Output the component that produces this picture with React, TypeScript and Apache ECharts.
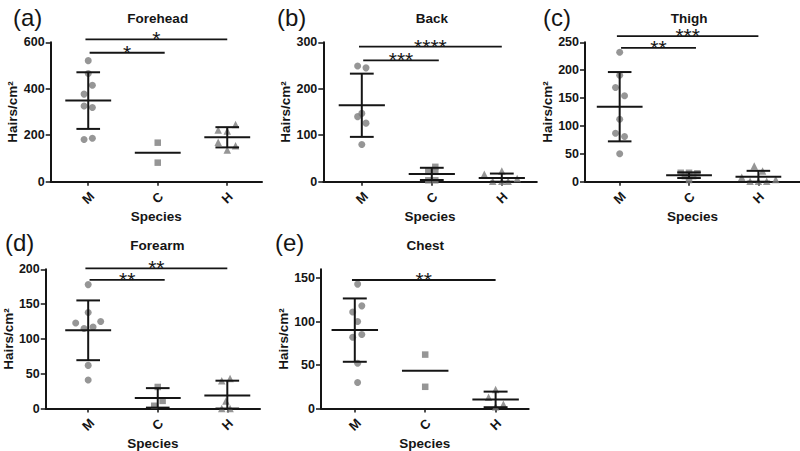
import React, { useEffect, useRef } from "react";
import * as echarts from "echarts";

// ---------- data ----------
const species = ["M", "C", "H"];
const panelLabels = ["(a)", "(b)", "(c)", "(d)", "(e)"];
const panelTitles = ["Forehead", "Back", "Thigh", "Forearm", "Chest"];
const yAxisName = "Hairs/cm²";
const xAxisName = "Species";

const foreheadM = [521, 466, 415, 377, 326, 319, 187, 182];
const foreheadMJitter = [0, 0, 0.06, -0.06, -0.06, 0.06, 0.06, -0.06];
const foreheadC = [168, 82];
const foreheadCJitter = [0, 0];
const foreheadH = [246, 222, 218, 170, 155, 136];
const foreheadHJitter = [0.12, -0.13, 0, -0.13, 0.12, 0];

const backM = [249, 245, 147, 140, 126, 80];
const backMJitter = [-0.06, 0.06, 0, -0.06, 0.06, 0];
const backC = [32, 24, 22, 3, 3];
const backCJitter = [0.05, -0.05, 0.05, -0.05, 0.05];
const backH = [16, 23, 7, 1, 1, 1];
const backHJitter = [-0.25, 0, 0.22, -0.13, 0, 0.09];

const thighM = [232, 191, 169, 154, 112, 87, 81, 50];
const thighMJitter = [0, 0, -0.06, 0.07, 0, -0.06, 0.07, 0];
const thighC = [16, 16, 15, 10, 10, 3];
const thighCJitter = [-0.12, 0, 0.12, -0.06, 0.06, 0];
const thighH = [28, 19, 8, 1, 1, 1, 4];
const thighHJitter = [-0.06, 0.06, -0.24, -0.12, 0, 0.12, 0.25];

const forearmM = [178, 138, 125, 123, 117, 115, 62, 41];
const forearmMJitter = [0, 0, 0.18, -0.18, 0.07, -0.06, 0, 0];
const forearmC = [31, 11, 4];
const forearmCJitter = [0, 0.07, -0.05];
const forearmH = [40, 43, 11, 0, 0];
const forearmHJitter = [-0.08, 0.04, -0.02, -0.08, 0.04];

const chestM = [143, 118, 111, 100, 85, 82, 52, 30];
const chestMJitter = [0.04, 0.1, -0.03, 0.04, 0.1, -0.03, 0.04, 0.04];
const chestC = [62, 25];
const chestCJitter = [0, 0];
const chestH = [22, 13, 5, 2];
const chestHJitter = [0, -0.1, 0.11, 0];

const yMaxes = [600, 300, 250, 200, 160];
const foreheadTicks = [0, 200, 400, 600];
const backTicks = [0, 100, 200, 300];
const thighTicks = [0, 50, 100, 150, 200, 250];
const forearmTicks = [0, 50, 100, 150, 200];
const chestTicks = [0, 50, 100, 150];

// significance comparisons: [group index from, group index to]
const foreheadSigPairs = [[0, 2], [0, 1]];
const foreheadSigLevels = [613, 555];
const foreheadSigLabels = ["*", "*"];
const backSigPairs = [[0, 2], [0, 1]];
const backSigLevels = [290.5, 261];
const backSigLabels = ["****", "***"];
const thighSigPairs = [[0, 2], [0, 1]];
const thighSigLevels = [261, 240];
const thighSigLabels = ["***", "**"];
const forearmSigPairs = [[0, 2], [0, 1]];
const forearmSigLevels = [201.4, 184.7];
const forearmSigLabels = ["**", "**"];
const chestSigPairs = [[0, 2]];
const chestSigLevels = [147.7];
const chestSigLabels = ["**"];

// ---------- layout / style ----------
const FONT = "'Liberation Sans', Arial, Helvetica, sans-serif";
const INK = "#151515";
const DOT = "#7c7c7c";

const layouts = [
  { left: 50.7, top: 42.3, width: 211.3, height: 139.4, xMin: 0.46, xMax: 3.5, nameGap: 25, labelX: 13, labelY: 17, titleY: 18 },
  { left: 323.3, top: 42.3, width: 213.5, height: 139.4, xMin: 0.45, xMax: 3.5, nameGap: 29, labelX: 277, labelY: 17, titleY: 18 },
  { left: 585, top: 42.3, width: 215, height: 139.4, xMin: 0.5, xMax: 3.6, nameGap: 30, labelX: 543, labelY: 17, titleY: 18 },
  { left: 45, top: 269.3, width: 215, height: 139.7, xMin: 0.39, xMax: 3.47, nameGap: 19, labelX: 5, labelY: 242, titleY: 245.7 },
  { left: 321, top: 269.3, width: 207.7, height: 139.7, xMin: 0.52, xMax: 3.47, nameGap: 27, labelX: 275, labelY: 242, titleY: 245.7 },
];

const panels = [
  { groups: [foreheadM, foreheadC, foreheadH], jitters: [foreheadMJitter, foreheadCJitter, foreheadHJitter], ticks: foreheadTicks, sigPairs: foreheadSigPairs, sigLevels: foreheadSigLevels, sigLabels: foreheadSigLabels },
  { groups: [backM, backC, backH], jitters: [backMJitter, backCJitter, backHJitter], ticks: backTicks, sigPairs: backSigPairs, sigLevels: backSigLevels, sigLabels: backSigLabels },
  { groups: [thighM, thighC, thighH], jitters: [thighMJitter, thighCJitter, thighHJitter], ticks: thighTicks, sigPairs: thighSigPairs, sigLevels: thighSigLevels, sigLabels: thighSigLabels },
  { groups: [forearmM, forearmC, forearmH], jitters: [forearmMJitter, forearmCJitter, forearmHJitter], ticks: forearmTicks, sigPairs: forearmSigPairs, sigLevels: forearmSigLevels, sigLabels: forearmSigLabels },
  { groups: [chestM, chestC, chestH], jitters: [chestMJitter, chestCJitter, chestHJitter], ticks: chestTicks, sigPairs: chestSigPairs, sigLevels: chestSigLevels, sigLabels: chestSigLabels },
];

const symbols = ["circle", "rect", "triangle"];
const symbolSizes = [7, 6.5, 7.5];

function stats(vals: number[]) {
  const n = vals.length;
  const mean = vals.reduce((a, b) => a + b, 0) / n;
  const sd = n > 1 ? Math.sqrt(vals.reduce((a, b) => a + (b - mean) * (b - mean), 0) / (n - 1)) : 0;
  return { mean, sd };
}

function renderSummary(params: any, api: any) {
  const x = api.value(0);
  const m = api.value(1);
  const lo = Math.max(api.value(2), 0);
  const hi = api.value(3);
  const show = api.value(4);
  const pm = api.coord([x, m]);
  const half = api.size([0.33, 0])[0];
  const cap = api.size([0.17, 0])[0];
  const style = { stroke: INK, lineWidth: 2 };
  const children: any[] = [
    { type: "line", shape: { x1: pm[0] - half, y1: pm[1], x2: pm[0] + half, y2: pm[1] }, style },
  ];
  if (show) {
    const pl = api.coord([x, lo]);
    const ph = api.coord([x, hi]);
    children.push({ type: "line", shape: { x1: pl[0], y1: pl[1], x2: ph[0], y2: ph[1] }, style });
    children.push({ type: "line", shape: { x1: ph[0] - cap, y1: ph[1], x2: ph[0] + cap, y2: ph[1] }, style });
    children.push({ type: "line", shape: { x1: pl[0] - cap, y1: pl[1], x2: pl[0] + cap, y2: pl[1] }, style });
  }
  return { type: "group", children };
}

function makeSigRenderer(labels: string[]) {
  return (params: any, api: any) => {
    const x1 = api.value(0);
    const x2 = api.value(1);
    const y = api.value(2);
    const k = api.value(3);
    const p1 = api.coord([x1, y]);
    const p2 = api.coord([x2, y]);
    return {
      type: "group",
      children: [
        { type: "line", shape: { x1: p1[0], y1: p1[1], x2: p2[0], y2: p2[1] }, style: { stroke: INK, lineWidth: 1.8 } },
        {
          type: "text",
          x: (p1[0] + p2[0]) / 2,
          y: p1[1] - 0.5,
          style: { text: labels[k], align: "center", verticalAlign: "middle", fontSize: 21, fontFamily: FONT, fill: INK },
        },
      ],
    };
  };
}

function buildOption() {
  const grid: any[] = [];
  const xAxis: any[] = [];
  const yAxis: any[] = [];
  const series: any[] = [];
  const graphic: any[] = [];

  panels.forEach((p, i) => {
    const L = layouts[i];
    grid.push({ left: L.left, top: L.top, width: L.width, height: L.height, containLabel: false });
    xAxis.push({
      gridIndex: i,
      type: "value",
      min: L.xMin,
      max: L.xMax,
      splitLine: { show: false },
      axisLine: { show: true, onZero: false, lineStyle: { color: INK, width: 2 } },
      axisTick: { show: true, customValues: [1, 2, 3], length: 4, lineStyle: { color: INK, width: 1.5 } },
      axisLabel: {
        customValues: [1, 2, 3],
        formatter: (v: number) => species[Math.round(v) - 1] ?? "",
        rotate: 45,
        align: "center",
        verticalAlign: "middle",
        margin: 16,
        fontFamily: FONT,
        fontWeight: "bold",
        fontSize: 13,
        color: INK,
      },
      name: xAxisName,
      nameLocation: "middle",
      nameGap: 23,
      nameTextStyle: { fontFamily: FONT, fontWeight: "bold", fontSize: 13.5, color: INK },
    });
    yAxis.push({
      gridIndex: i,
      type: "value",
      min: 0,
      max: yMaxes[i],
      splitLine: { show: false },
      axisLine: { show: true, onZero: false, lineStyle: { color: INK, width: 2 } },
      axisTick: { show: true, customValues: p.ticks, length: 5, lineStyle: { color: INK, width: 1.5 } },
      axisLabel: { customValues: p.ticks, margin: 6, fontFamily: FONT, fontWeight: "bold", fontSize: 12.5, color: INK },
      name: yAxisName,
      nameLocation: "middle",
      nameGap: L.nameGap,
      nameTextStyle: { fontFamily: FONT, fontWeight: "bold", fontSize: 13.5, color: INK },
    });

    p.groups.forEach((vals, g) => {
      series.push({
        type: "scatter",
        xAxisIndex: i,
        yAxisIndex: i,
        symbol: symbols[g],
        symbolSize: symbolSizes[g],
        itemStyle: { color: DOT },
        silent: true,
        z: 2,
        data: vals.map((v, k) => [g + 1 + p.jitters[g][k], v]),
      });
    });

    series.push({
      type: "custom",
      xAxisIndex: i,
      yAxisIndex: i,
      silent: true,
      z: 3,
      renderItem: renderSummary,
      data: p.groups.map((vals, g) => {
        const s = stats(vals);
        return [g + 1, s.mean, s.mean - s.sd, s.mean + s.sd, vals.length > 2 ? 1 : 0];
      }),
    });

    series.push({
      type: "custom",
      xAxisIndex: i,
      yAxisIndex: i,
      silent: true,
      clip: false,
      z: 4,
      renderItem: makeSigRenderer(p.sigLabels),
      data: p.sigPairs.map((pr, k) => {
        const toC = pr[1] === 1;
        const x1 = pr[0] + 1 + (toC ? 0.02 : -0.04);
        const x2 = pr[1] + 1 + (toC ? 0.1 : 0);
        return [x1, x2, p.sigLevels[k], k];
      }),
    });

    const spacing = L.width / (L.xMax - L.xMin);
    const cx = L.left + (2 - L.xMin) * spacing;
    graphic.push({
      type: "text",
      x: cx,
      y: L.titleY,
      style: {
        text: panelTitles[i],
        font: `bold 13.5px ${FONT}`,
        fill: INK,
        align: "center",
        verticalAlign: "middle",
        textAlign: "center",
        textVerticalAlign: "middle",
      },
    });
    graphic.push({
      type: "text",
      x: L.labelX,
      y: L.labelY,
      style: {
        text: panelLabels[i],
        font: `24px ${FONT}`,
        fill: INK,
        align: "left",
        verticalAlign: "middle",
        textAlign: "left",
        textVerticalAlign: "middle",
      },
    });
  });

  return { animation: false, backgroundColor: "#ffffff", grid, xAxis, yAxis, series, graphic };
}

export default function App() {
  const ref = useRef<HTMLDivElement>(null);
  useEffect(() => {
    if (!ref.current) return;
    const chart = echarts.init(ref.current, null, { renderer: "svg" });
    chart.setOption(buildOption() as any);
    return () => chart.dispose();
  }, []);
  return (
    <div
      ref={ref}
      style={{ position: "fixed", left: 0, top: 0, width: 800, height: 451, background: "#ffffff" }}
    />
  );
}
